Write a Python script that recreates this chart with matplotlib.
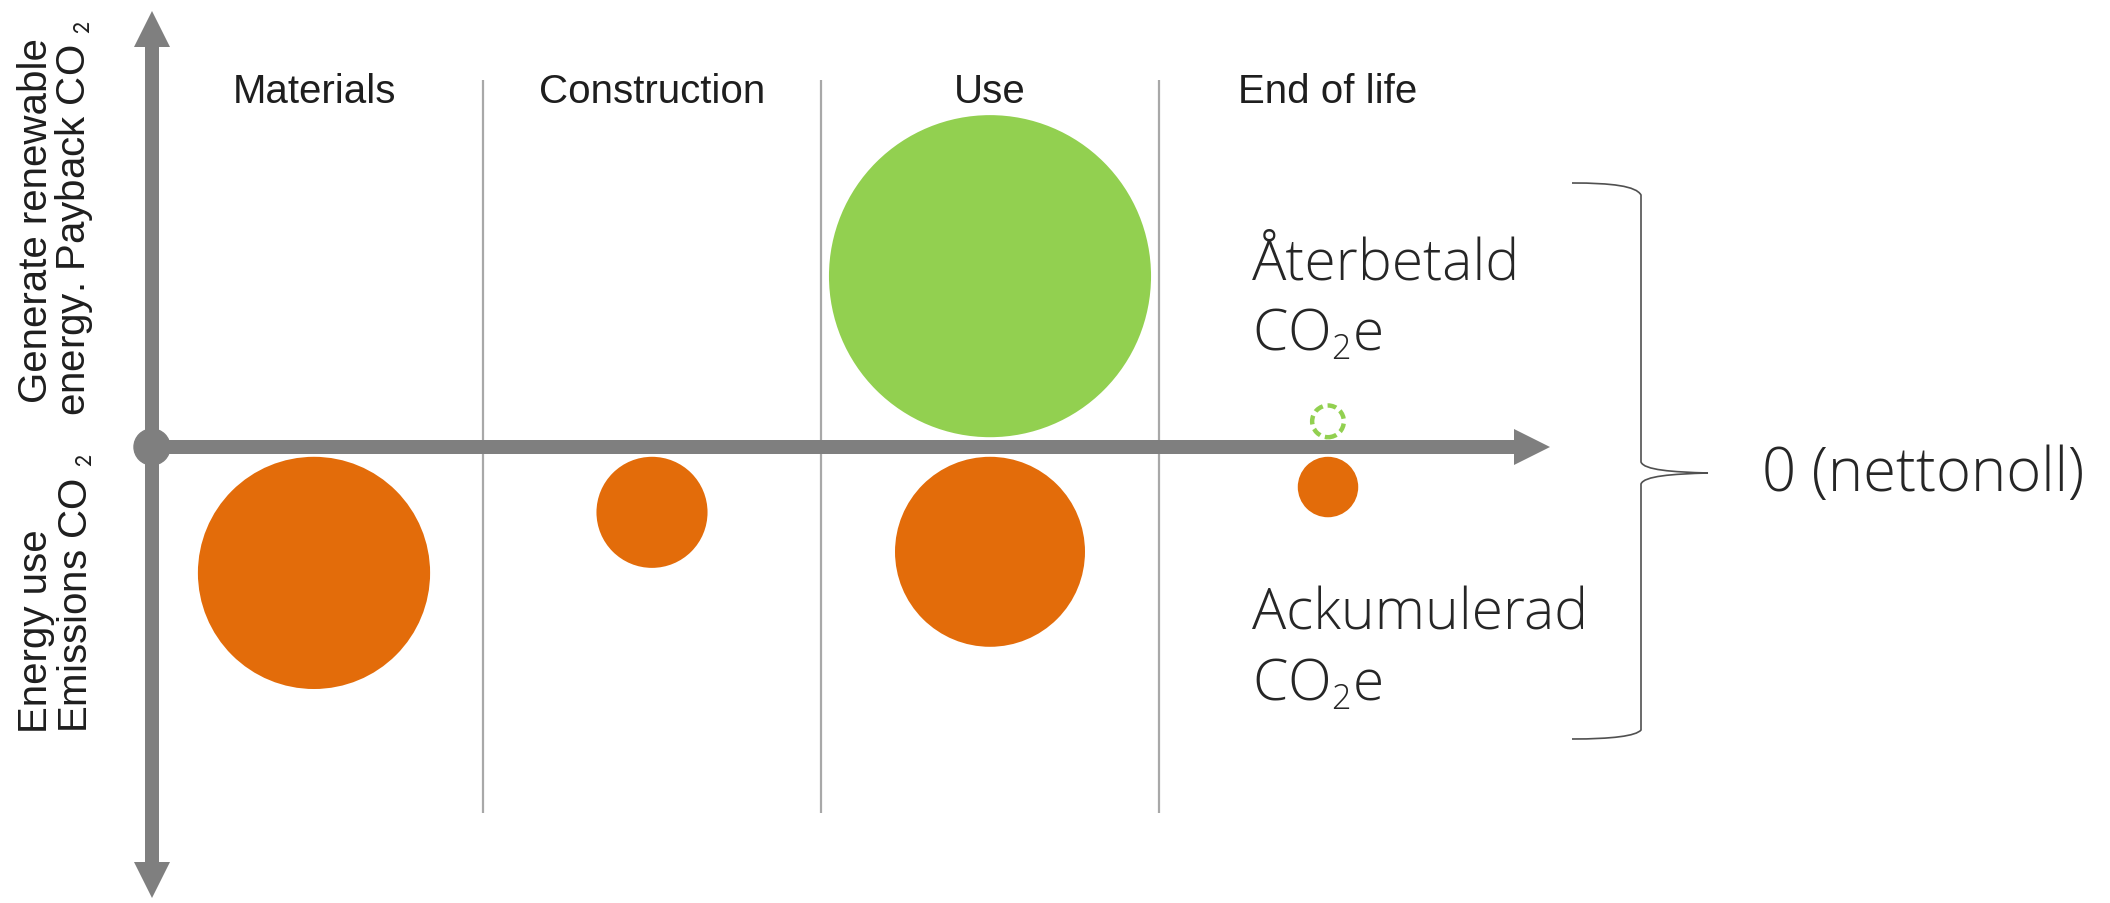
import numpy as np
import matplotlib
matplotlib.use("Agg")
import matplotlib.pyplot as plt
from matplotlib.patches import Circle, PathPatch
from matplotlib.path import Path

try:  # smaller, lower subscripts (closer to the reference typography)
    import matplotlib._mathtext as _mt
    _mt.SHRINK_FACTOR = 0.6
    _mt.FontConstantsBase.subdrop = 0.6
except Exception:
    pass

# ---------------- data ----------------
categories = ["Materials", "Construction", "Use", "End of life"]
emissions = [11.8, 2.7, 7.9, 0.8]          # relative CO2 emitted (bubble area)
payback = [0.0, 0.0, 22.7, 0.22]           # relative CO2 paid back (bubble area)
payback_potential = [False, False, False, True]   # dashed = potential payback
y_label_up = ["Generate renewable", "energy. Payback CO $_2$"]
y_label_down = ["Energy use", "Emissions CO $_2$"]
text_payback = ["Återbetald", "CO$_2$e"]
text_emission = ["Ackumulerad", "CO$_2$e"]
text_net = "0 (nettonoll)"

# ---------------- style ----------------
ORANGE = "#E36C0A"
GREEN = "#92D050"
AXIS = "#7F7F7F"
DIV = "#A8A8A8"
TXT = "#1E1E1E"
plt.rcParams["mathtext.fontset"] = "custom"
plt.rcParams["mathtext.rm"] = "Open Sans:light"
plt.rcParams["mathtext.it"] = "Open Sans:light"

W, H, DPI = 2110, 904, 100
PX = 338.0          # pixels per unit
X0, Y0 = 145.0, 448.0

fig = plt.figure(figsize=(W / DPI, H / DPI), dpi=DPI)
ax = fig.add_axes([0, 0, 1, 1])
ax.set_xlim(-X0 / PX, (W - X0) / PX)
ax.set_ylim(-(H - Y0) / PX, Y0 / PX)
ax.axis("off")

def X(px):
    return (px - X0) / PX

def Y(py):
    return (Y0 - py) / PX

n = len(categories)
RSCALE = 0.1
GAP = 0.029

# dividers
ax.vlines(np.arange(1, n), Y(814), Y(81), color=DIV, lw=1.6, zorder=1)

# bubbles
for i, (e, p, pot) in enumerate(zip(emissions, payback, payback_potential)):
    cx = i + 0.5
    if e > 0:
        r = RSCALE * np.sqrt(e)
        ax.add_patch(Circle((cx, -(GAP + r)), r, facecolor=ORANGE, edgecolor="none", zorder=3))
    if p > 0:
        r = RSCALE * np.sqrt(p)
        if pot:
            ax.add_patch(Circle((cx, GAP + r), r, facecolor="none", edgecolor=GREEN,
                                lw=3.2, linestyle=(0, (2.0, 1.1)), zorder=3))
        else:
            ax.add_patch(Circle((cx, GAP + r), r, facecolor=GREEN, edgecolor="none", zorder=3))

# axes arrows (vertical axis sits slightly right of the first column edge)
ox = X(152)
sw, hw, hl = 14 / PX, 36 / PX, 36 / PX
ax.arrow(ox, 0, X(1550) - ox, 0, width=sw, head_width=hw, head_length=hl,
         length_includes_head=True, color=AXIS, lw=0, zorder=4)
ax.arrow(ox, 0, 0, Y(12), width=sw, head_width=hw, head_length=hl,
         length_includes_head=True, color=AXIS, lw=0, zorder=4)
ax.arrow(ox, 0, 0, Y(899), width=sw, head_width=hw, head_length=hl,
         length_includes_head=True, color=AXIS, lw=0, zorder=4)
ax.add_patch(Circle((ox, 0), 18 / PX, color=AXIS, zorder=5))

# category labels
for i, c in enumerate(categories):
    ax.text(i + 0.5, Y(103), c, ha="center", va="baseline", fontsize=29,
            family="Liberation Sans", color=TXT)

# y-axis labels
lab_kw = dict(rotation=90, rotation_mode="anchor", va="baseline", fontsize=29,
              family="Liberation Sans", color=TXT, math_fontfamily="stixsans")
ax.text(X(47), Y(221), y_label_up[0], ha="center", **lab_kw)
ax.text(X(85), Y(218), y_label_up[1], ha="center", **lab_kw)
ax.text(X(47), Y(733), y_label_down[0], ha="left", **lab_kw)
ax.text(X(88), Y(733), y_label_down[1], ha="left", **lab_kw)

# right-side texts
rt_kw = dict(ha="left", va="baseline", fontsize=41, family="Open Sans",
             fontweight="light", color="#262626", math_fontfamily="custom")
ax.text(X(1252), Y(279), text_payback[0], **rt_kw)
ax.text(X(1252), Y(350), text_payback[1], **rt_kw)
ax.text(X(1252), Y(630), text_emission[0], **rt_kw)
ax.text(X(1252), Y(700), text_emission[1], **rt_kw)
ax.text(X(1762), Y(491), text_net, **dict(rt_kw, fontsize=43))

# curly brace
pts = [(1572, 184), (1612, 184), (1636, 187), (1641, 196),
       (1641, 463),
       (1644, 471), (1672, 473), (1708, 474),
       (1672, 475), (1644, 477), (1641, 485),
       (1641, 731),
       (1636, 737), (1612, 740), (1572, 740)]
codes = [Path.MOVETO, Path.CURVE4, Path.CURVE4, Path.CURVE4,
         Path.LINETO,
         Path.CURVE4, Path.CURVE4, Path.CURVE4,
         Path.CURVE4, Path.CURVE4, Path.CURVE4,
         Path.LINETO,
         Path.CURVE4, Path.CURVE4, Path.CURVE4]
verts = [(X(a), Y(b)) for a, b in pts]
ax.add_patch(PathPatch(Path(verts, codes), facecolor="none", edgecolor="#505050",
                       lw=1.2, zorder=2))

fig.savefig("out.png", dpi=DPI)
